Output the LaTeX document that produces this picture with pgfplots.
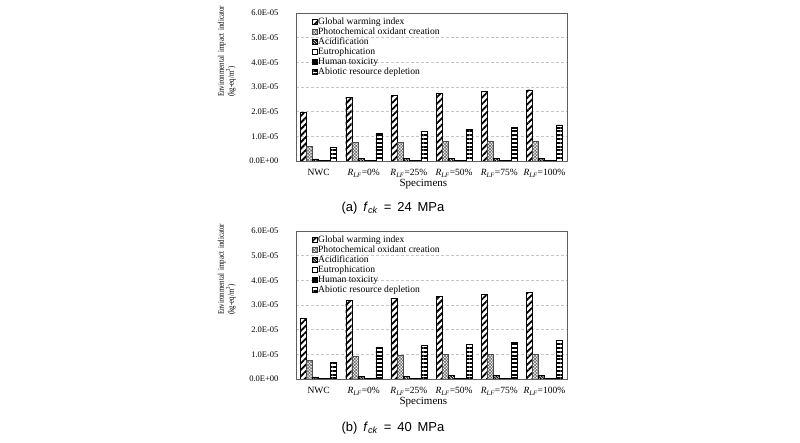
\documentclass[border=0pt]{standalone}
\usepackage{fontspec}
\setmainfont{Liberation Serif}
\newfontfamily\capfont{Liberation Sans}
\newfontfamily\narrowserif[FakeStretch=0.8]{Liberation Serif}
\usepackage{pgfplots}
\usepackage{pgfplotstable}
\pgfplotsset{compat=1.18}
\usetikzlibrary{patterns.meta}

% values in units of 1E-05 kg-eq/m3
\pgfplotstableread{
x gwp poc ac eu ht adp
0 1.98 0.60 0.09 0.03 0.02 0.56
1 2.58 0.75 0.10 0.03 0.02 1.12
2 2.67 0.75 0.10 0.03 0.02 1.21
3 2.74 0.79 0.11 0.04 0.02 1.28
4 2.82 0.82 0.11 0.04 0.02 1.37
5 2.89 0.82 0.12 0.04 0.02 1.46
}\tabA
\pgfplotstableread{
x gwp poc ac eu ht adp
0 2.46 0.76 0.09 0.03 0.02 0.68
1 3.20 0.93 0.11 0.04 0.02 1.28
2 3.27 0.96 0.12 0.04 0.02 1.35
3 3.35 0.99 0.14 0.05 0.02 1.41
4 3.43 0.99 0.14 0.05 0.02 1.49
5 3.50 1.00 0.15 0.05 0.02 1.57
}\tabB

\newcommand{\RLF}[1]{\textit{R}\textsubscript{\textit{LF}}=#1\%}

\pgfplotsset{
  lca/.style={
    scale only axis, width=271pt, height=148pt,
    ybar=0pt, bar width=0.133,
    xmin=-0.5, xmax=5.5, ymin=0, ymax=6,
    xtick={0,...,5},
    xticklabels={NWC,\RLF{0},\RLF{25},\RLF{50},\RLF{75},\RLF{100}},
    ytick={0,...,6},
    yticklabels={0.0E+00,1.0E-05,2.0E-05,3.0E-05,4.0E-05,5.0E-05,6.0E-05},
    major tick length=0pt,
    ymajorgrids, grid style={densely dashed, gray!45, line width=0.4pt},
    axis line style={gray!75!black, line width=0.5pt},
    x tick label style={font=\fontsize{9.5}{10}\selectfont, yshift=-5pt},
    y tick label style={font=\fontsize{8.5}{9}\selectfont, xshift=-14pt},
    xlabel={Specimens},
    xlabel style={font=\fontsize{11}{12}\selectfont, at={(axis description cs:0.47,-0.155)}, anchor=center},
    ylabel={Environmental\ \ impact\ \ indicator\\(kg-eq/m\textsuperscript{3})},
    ylabel style={font=\narrowserif\fontsize{8.6}{10}\selectfont, align=left, inner sep=0pt,
      at={(axis description cs:-0.255,0.432)}, anchor=west},
    legend style={at={(axis description cs:0.058,0.975)}, anchor=north west,
      draw=none, fill=none, font=\fontsize{9.6}{10}\selectfont,
      row sep=0pt, inner sep=0pt,
      nodes={inner sep=0.6pt, text height=6.8pt, text depth=2pt}},
    legend cell align=left,
    legend image code/.code={\draw[#1, line width=0.4pt] (0pt,-2.6pt) rectangle (5.2pt,2.6pt);},
  },
  gwpS/.style={draw=black, line width=0.4pt, fill=white, pattern={Lines[angle=45,distance=4.6pt,line width=1.8pt]}},
  pocS/.style={draw=black!70, line width=0.4pt, pattern={Hatch[angle=45,distance=2.2pt,line width=0.6pt]}, pattern color=black!60},
  acS/.style={draw=black, line width=0.4pt, pattern={Lines[angle=-45,distance=2pt,line width=1.2pt]}},
  euS/.style={draw=black, line width=0.4pt, fill=white},
  htS/.style={draw=black, line width=0.4pt, fill=black},
  adpS/.style={draw=black, line width=0.4pt, pattern={Lines[angle=0,distance=3.8pt,line width=1.9pt]}},
}

\begin{document}
\begin{tikzpicture}
\useasboundingbox (0pt,0pt) rectangle (800pt,443pt);

\begin{axis}[lca, at={(296pt,282pt)}, anchor=south west]
\addplot[gwpS] table[x=x,y=gwp]{\tabA};
\addplot[pocS] table[x=x,y=poc]{\tabA};
\addplot[acS] table[x=x,y=ac]{\tabA};
\addplot[euS] table[x=x,y=eu]{\tabA};
\addplot[htS] table[x=x,y=ht]{\tabA};
\addplot[adpS] table[x=x,y=adp]{\tabA};
\legend{Global warming index,Photochemical oxidant creation,Acidification,Eutrophication,Human toxicity,Abiotic resource depletion}
\end{axis}

\begin{axis}[lca, at={(296pt,64pt)}, anchor=south west]
\addplot[gwpS] table[x=x,y=gwp]{\tabB};
\addplot[pocS] table[x=x,y=poc]{\tabB};
\addplot[acS] table[x=x,y=ac]{\tabB};
\addplot[euS] table[x=x,y=eu]{\tabB};
\addplot[htS] table[x=x,y=ht]{\tabB};
\addplot[adpS] table[x=x,y=adp]{\tabB};
\legend{Global warming index,Photochemical oxidant creation,Acidification,Eutrophication,Human toxicity,Abiotic resource depletion}
\end{axis}

\node[font=\capfont\fontsize{13}{15}\selectfont] at (393pt,235pt)
  {(a)\hspace{0.45em}\textit{f}\textsubscript{\textit{ck}}\hspace{0.45em}=\hspace{0.45em}24\hspace{0.45em}MPa};
\node[font=\capfont\fontsize{13}{15}\selectfont] at (393pt,15pt)
  {(b)\hspace{0.45em}\textit{f}\textsubscript{\textit{ck}}\hspace{0.45em}=\hspace{0.45em}40\hspace{0.45em}MPa};
\end{tikzpicture}
\end{document}
